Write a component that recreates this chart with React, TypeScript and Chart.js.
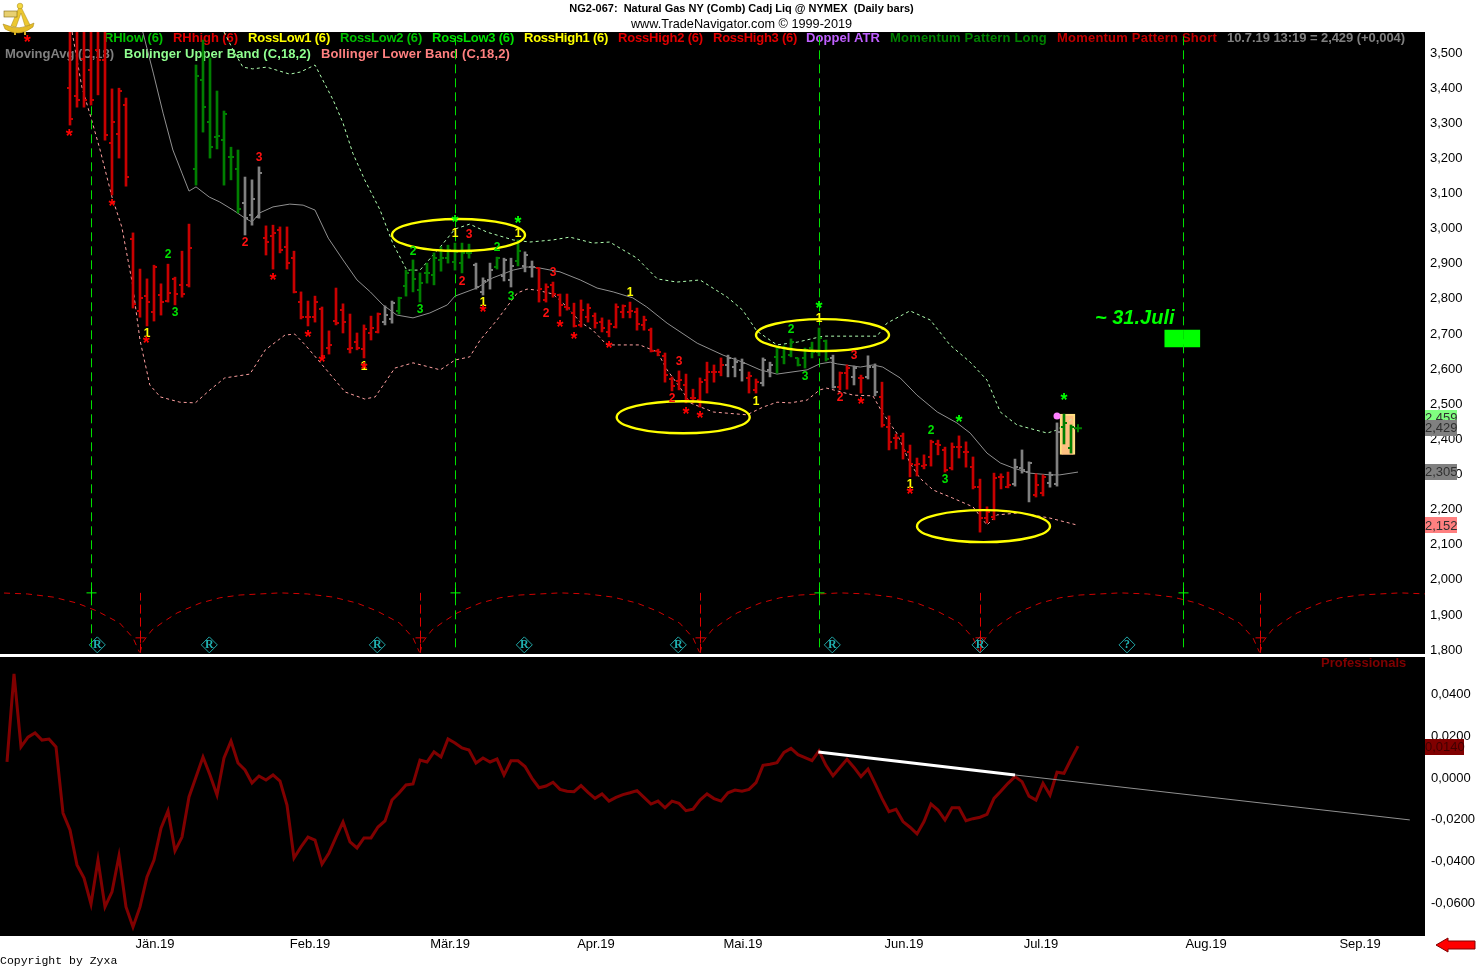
import React, { useEffect, useRef } from "react";
import Chart from "chart.js/auto";

const FONT = "'Liberation Sans', Arial, sans-serif";

// ---- price bars (bar index = barStart + position)
const barStart = 10;
const opens = [
  3397,3375,3480,3449,3506,3477,3241,3267,3349,2968,
  2763,2805,2760,2808,2791,2854,2837,2837,3167,3420,
  3301,3258,3249,3201,3167,3070,3036,3030,2970,2976,
  2993,2945,2913,2788,2745,2745,2768,2657,2734,2765,
  2654,2674,2654,2700,2703,2731,2740,2763,2834,2879,
  2822,2871,2865,2908,2913,2902,2899,2928,2893,2817,
  2851,2888,2862,2851,2905,2891,2888,2885,2794,2837,
  2808,2774,2757,2723,2745,2748,2731,2703,2717,2760,
  2760,2760,2723,2708,2649,2635,2569,2563,2552,2515,
  2509,2566,2589,2589,2609,2603,2595,2572,2538,2558,
  2595,2632,2632,2637,2629,2629,2657,2646,2677,2629,
  2546,2586,2575,2572,2575,2603,2518,2432,2401,2407,
  2361,2324,2321,2347,2384,2367,2316,2375,2361,2318,
  2261,2173,2176,2290,2261,2270,2316,2304,2239,2244,
  2273,2270,2432,2373,
];
const highs = [
  3650,3650,3650,3650,3650,3650,3395,3397,3369,2985,
  2882,2854,2893,2840,2896,2859,2933,3010,3463,3534,
  3483,3389,3332,3229,3221,3144,3136,3173,3005,3007,
  3002,3002,2933,2817,2791,2805,2774,2706,2828,2783,
  2754,2700,2723,2748,2757,2777,2791,2802,2879,2908,
  2871,2899,2928,2945,2950,2956,2956,2953,2899,2857,
  2899,2916,2913,2913,2965,2931,2905,2885,2840,2845,
  2811,2811,2785,2794,2783,2757,2743,2737,2783,2780,
  2788,2771,2748,2714,2654,2643,2575,2592,2583,2540,
  2572,2617,2609,2629,2637,2629,2626,2589,2569,2629,
  2617,2660,2663,2683,2629,2657,2674,2714,2680,2637,
  2589,2609,2606,2580,2635,2612,2560,2464,2412,2415,
  2381,2344,2353,2395,2395,2375,2387,2407,2390,2347,
  2284,2205,2301,2299,2304,2341,2367,2333,2299,2296,
  2304,2444,2469,2438,
];
const lows = [
  3292,3343,3343,3349,3378,3249,3093,3198,3118,2771,
  2745,2720,2734,2751,2788,2780,2802,2831,3121,3272,
  3198,3224,3121,3136,3042,2979,3007,3027,2922,2882,
  2928,2882,2814,2740,2720,2731,2632,2640,2723,2700,
  2643,2652,2629,2680,2700,2723,2728,2754,2805,2817,
  2788,2842,2837,2876,2899,2879,2871,2913,2825,2808,
  2825,2882,2848,2831,2891,2874,2859,2788,2788,2802,
  2748,2765,2717,2717,2731,2714,2703,2689,2714,2743,
  2743,2708,2708,2646,2635,2560,2535,2538,2501,2501,
  2489,2529,2560,2578,2575,2575,2563,2529,2529,2549,
  2575,2586,2612,2632,2606,2600,2629,2635,2620,2543,
  2538,2540,2552,2529,2569,2521,2432,2367,2370,2341,
  2290,2293,2313,2321,2353,2304,2310,2344,2318,2256,
  2133,2159,2168,2256,2259,2264,2301,2219,2233,2236,
  2261,2264,2384,2358,
];
const closes = [
  3309,3363,3363,3363,3477,3264,3301,3389,3144,2783,
  2800,2788,2888,2788,2814,2811,2811,2942,3432,3343,
  3229,3261,3323,3201,3053,3027,3081,3155,2959,2985,
  2936,2899,2817,2745,2745,2788,2635,2666,2728,2731,
  2657,2657,2711,2714,2754,2751,2785,2800,2871,2854,
  2842,2871,2913,2913,2936,2931,2928,2928,2831,2848,
  2879,2913,2908,2891,2933,2922,2888,2825,2831,2811,
  2780,2771,2720,2765,2771,2728,2714,2726,2774,2777,
  2763,2726,2737,2649,2646,2580,2549,2566,2509,2515,
  2560,2589,2589,2609,2629,2617,2615,2578,2560,2623,
  2609,2657,2657,2674,2609,2652,2646,2686,2626,2546,
  2586,2600,2600,2572,2603,2532,2438,2390,2401,2364,
  2327,2327,2324,2390,2381,2310,2375,2375,2361,2261,
  2173,2190,2287,2290,2267,2318,2310,2330,2267,2290,
  2296,2418,2444,2432,
];
const barKinds =
  "rrrrrrrrrrrrrrrrrr" + "ggggggg" + "nnn" + "rrrrrrrrrrrrrrrrr" + "nn" + "ggggggggggg" + "nnn" + "g" + "nn" + "g" + "nn" +
  "rrrrrrrrrrrrrrrrrrrrrrrrrrr" + "nnn" + "rr" + "nn" + "gggggggg" + "n" + "rr" + "n" + "r" + "nn" +
  "rrrrrrrrrrrrrrrrrrr" + "nnn" + "rr" + "nn" + "gg";

// ---- moving average and Bollinger bands (bar index / price)
const maBars = [20.4,21.9,23.3,24.7,26,27,28,29.9,31.4,33.3,35,36,37.1,39,41.4,43.3,45,46.9,49,51,52.9,54.7,56.7,59,61.4,63.9,65,68.1,70.4,73.3,75.3,77.1,80,82.9,85.3,87.6,90.4,92.4,95.3,99.6,103.3,106.1,108.6,111,115.3,117.1,118.6,119.6,122.9,124.7,126.1,128.6,131,133.9,136.7,138.6,141,142.9,144.7,147.1,150,151.4,154];
const maValues = [3557,3440,3326,3221,3155,3104,3116,3087,3073,3050,3027,3016,3042,3059,3067,3064,3050,2970,2908,2851,2817,2780,2751,2743,2757,2780,2805,2828,2857,2879,2888,2885,2874,2851,2828,2817,2800,2774,2728,2671,2637,2617,2595,2583,2595,2612,2617,2612,2603,2609,2603,2572,2523,2475,2444,2415,2358,2330,2316,2301,2296,2296,2304];
const upperBars = [32,33.3,34.7,36.1,38.1,41.4,42.9,45,47.6,49,50.4,52.1,54.3,56.1,58.1,60,62.9,65,67.1,69.6,73.3,75.7,79,81.4,84.7,87.1,91,93.9,96.7,100,103.9,106.1,108.1,111,113.9,117.6,120,125.3,126.7,130,132.9,135.7,138.6,141,142.9,145.3,149.6,151,153.3];
const upperValues = [3557,3506,3457,3452,3457,3437,3443,3463,3363,3298,3212,3136,3050,2956,2879,2879,2945,2996,3010,2987,2965,2959,2965,2973,2956,2959,2913,2854,2845,2851,2802,2765,2706,2666,2674,2691,2691,2691,2728,2763,2737,2666,2617,2566,2475,2438,2415,2424,2458];
const lowerBars = [10.3,11.7,13.1,14.3,16,17.4,18.9,20,21.4,22.9,25.7,27.9,30,32.1,35.7,37.9,40.7,42.1,43.6,45.7,49.3,52.1,53.6,56.4,59,62.9,65,67.1,68.6,71,73.9,75.3,76.7,79,81,82.9,84.7,86.7,91.4,93.9,95.3,97.1,98.6,101.9,106.7,109,111,112.9,115.3,117.1,118.1,121.9,124.7,126.1,128.1,130,131.4,133.3,136.1,139,141,142.4,145.7,150,153.9];
const lowerValues = [3557,3400,3306,3221,3087,3002,2842,2680,2552,2518,2503,2501,2538,2572,2583,2652,2694,2697,2666,2617,2532,2512,2518,2600,2615,2595,2623,2632,2680,2737,2814,2825,2822,2811,2774,2731,2708,2666,2666,2646,2595,2546,2501,2475,2467,2489,2503,2501,2509,2538,2543,2523,2521,2472,2415,2330,2287,2253,2230,2205,2153,2182,2188,2173,2153];

// ---- cycle study
const greenCycleBars = [13, 65, 117, 169];
const redCycleBars = [20, 60, 100, 140, 180];
const arcTroughBars = [-20, 20, 60, 100, 140, 180];
const arcOffsets = [0,0.4,1.7,3.3,5.3,8.6,11.4,14.3,20,23.9,27.6,31,33.9,37.1,39,39.9];
const arcValues = [1789,1820,1854,1877,1903,1931,1946,1954,1960,1957,1948,1931,1908,1874,1832,1792];
const rBars = [13.9, 29.9, 53.9, 74.9, 96.9, 118.9, 140, 161];
const rLetters = ["R","R","R","R","R","R","R","?"];

// ---- signal marks
const starRedBars = [3.9,9.9,16,20.9,39,44,46,52,69,80,82,87,98,100,123,130];
const starRedValues = [3534,3266,3067,2677,2857,2694,2622,2603,2765,2723,2689,2663,2475,2464,2503,2247];
const starGreenBars = [65,74,117,137,152];
const starGreenValues = [3022,3019,2777,2452,2515];
const digitBars = [21,24,25,37,35,52,59,60,65,67,66,69,71,74,73,79,78,90,97,96,108,117,113,115,122,120,133,135,130];
const digitValues = [2697,2922,2757,3198,2956,2603,2931,2765,2982,2979,2845,2785,2942,2982,2802,2871,2754,2814,2617,2512,2503,2740,2708,2575,2635,2515,2421,2281,2267];
const digitTexts = ["1","2","3","3","2","1","2","3","1","3","2","1","2","1","3","3","2","1","3","2","1","1","2","3","3","2","2","3","1"];
const digitKinds = ["y","g","g","r","r","y","g","g","y","r","r","y","g","y","g","r","r","y","r","r","y","y","g","g","r","r","g","g","y"];

// ---- ellipses (centre bar, centre price)
const ellipseBars = [65.5, 117.5, 97.6, 140.5];
const ellipseValues = [2979, 2694, 2460, 2150];
const ellipseBarRadius = 9.5;
const ellipsePriceRadius = 45.6;

// ---- texts
const legendRow1 = ["RHIow (6)","RHhigh (6)","RossLow1 (6)","RossLow2 (6)","RossLow3 (6)","RossHigh1 (6)","RossHigh2 (6)","RossHigh3 (6)","Doppel ATR","Momentum Pattern Long","Momentum Pattern Short","10.7.19 13:19 = 2,429 (+0,004)"];
const legendRow1Colors = ["#00c000","#e00000","#ffff00","#00c000","#00e000","#ffff00","#e00000","#e00000","#c060ff","#008000","#c00000","#808080"];
const legendRow1X = [104,173,248,340,432,524,618,713,806,890,1057,1227];
const legendRow1W = [59,65,82,82,82,84,85,84,74,157,160,178];
const legendRow2 = ["MovingAvg (C,18)","Bollinger Upper Band (C,18,2)","Bollinger Lower Band (C,18,2)"];
const legendRow2Colors = ["#808080","#90ff90","#ff8080"];
const legendRow2X = [5,124,321];
const legendRow2W = [109,187,189];
const titleLine = "NG2-067:  Natural Gas NY (Comb) Cadj Liq @ NYMEX  (Daily bars)";
const subtitleLine = "www.TradeNavigator.com \u00A9 1999-2019";
const priceFlags = [2459, 2429, 2305, 2152];
const priceFlagFills = ["#80ff80", "#808080", "#808080", "#ff8080"];

// ---- lower panel
const professionals = [
  0.0067,0.0488,0.0139,0.0186,0.0206,0.0172,0.0177,0.0139,-0.0177,-0.0258,
  -0.0425,-0.0488,-0.0612,-0.0402,-0.0626,-0.0554,-0.0382,-0.0626,-0.0722,-0.0626,
  -0.0483,-0.0402,-0.0249,-0.0167,-0.0358,-0.0292,-0.0100,-0.0005,0.0091,0.0005,
  -0.0091,0.0086,0.0167,0.0062,0.0029,-0.0033,0,-0.0019,0.0005,-0.0024,
  -0.0139,-0.0392,-0.0339,-0.0292,-0.0306,-0.0421,-0.0368,-0.0292,-0.0220,-0.0315,
  -0.0344,-0.0296,-0.0296,-0.0244,-0.0215,-0.0115,-0.0081,-0.0043,-0.0038,0.0076,
  0.0067,0.0115,0.0091,0.0177,0.0158,0.0134,0.0124,0.0062,0.0086,0.0067,
  0.0081,0.0005,0.0073,0.0073,0.0045,-0.0011,-0.0056,-0.0048,-0.0030,-0.0064,
  -0.0073,-0.0075,-0.0046,-0.0078,-0.0107,-0.0086,-0.0120,-0.0102,-0.0089,-0.0080,
  -0.0070,-0.0102,-0.0134,-0.0120,-0.0152,-0.0120,-0.0131,-0.0166,-0.0159,-0.0115,
  -0.0086,-0.0108,-0.0120,-0.0080,-0.0067,-0.0073,-0.0064,-0.0032,0.0051,0.0056,
  0.0064,0.0113,0.0132,0.0102,0.0088,0.0073,0.0120,0.0051,0.0001,0.0041,
  0.0080,0.0041,-0.0003,0.0033,-0.0035,-0.0107,-0.0171,-0.0159,-0.0218,-0.0245,
  -0.0277,-0.0218,-0.0134,-0.0163,-0.0210,-0.0152,-0.0152,-0.0214,-0.0204,-0.0197,
  -0.0183,-0.0107,-0.0072,-0.0035,-0.0003,-0.0027,-0.0096,-0.0115,-0.0035,-0.0091,
  0.0018,0.0013,0.0080,0.0143,
];
const trendBars = [116.9, 145];
const trendValues = [0.0115, 0.0005];
const trendExtBars = [145, 201.4];
const trendExtValues = [0.0005, -0.021];
const monthLabels = ["J\u00E4n.19","Feb.19","M\u00E4r.19","Apr.19","Mai.19","Jun.19","Jul.19","Aug.19","Sep.19"];
const monthBars = [22.14,44.29,64.29,85.14,106.14,129.14,148.71,172.29,194.29];

const X_MAX = 1425 / 7;
const HALF_PX = 0.5 / 7; // keeps 1px vertical rules on one device pixel column
const COLORS: Record<string, string> = { r: "#c80000", g: "#007f00", n: "#808080", y: "#ffff00" };
const DIGIT_COLORS: Record<string, string> = { r: "#ff1010", g: "#00e000", y: "#ffff00" };

function tickImage(color: string, side: "left" | "right") {
  const c = document.createElement("canvas");
  c.width = 8;
  c.height = 2;
  const g = c.getContext("2d")!;
  g.fillStyle = color;
  if (side === "left") g.fillRect(1, 0, 3, 2);
  else g.fillRect(4, 0, 3, 2);
  return c;
}
const pts = (xs: number[], ys: number[]) => xs.map((x, i) => ({ x, y: ys[i] }));
const lineDs = (data: any[], color: string, width: number, dash: number[] = []) => ({
  type: "line", data, borderColor: color, borderWidth: width, borderDash: dash,
  pointRadius: 0, tension: 0, fill: false, order: 3,
});
const yFit = (s: any) => { s.width = 58; s.paddingTop = 0; s.paddingBottom = 0; };

function fitText(ctx: any, text: string, x: number, y: number, w: number) {
  ctx.letterSpacing = "0px";
  const m = ctx.measureText(text).width;
  ctx.letterSpacing = `${(w - m) / text.length}px`;
  ctx.fillText(text, x, y);
  ctx.letterSpacing = "0px";
}

export default function App() {
  const topRef = useRef<HTMLCanvasElement>(null);
  const botRef = useRef<HTMLCanvasElement>(null);

  useEffect(() => {
    const PRICE_MIN = 1786, PRICE_MAX = 3557;
    const bars = barKinds.split("").map((_, i) => ({ x: barStart + i, y: [lows[i], highs[i]] }));
    const barFill = barKinds.split("").map((k) => COLORS[k]);
    const leftImg: any = {}, rightImg: any = {};
    ["r", "g", "n"].forEach((k) => { leftImg[k] = tickImage(COLORS[k], "left"); rightImg[k] = tickImage(COLORS[k], "right"); });

    const topBg = {
      id: "topBg",
      beforeDraw(chart: any) {
        const { ctx, chartArea: a } = chart;
        ctx.save();
        ctx.fillStyle = "#fff";
        ctx.fillRect(0, 0, chart.width, chart.height);
        ctx.fillStyle = "#000";
        ctx.fillRect(a.left, a.top, a.right - a.left, a.bottom - a.top);
        ctx.fillStyle = "#000";
        ctx.textAlign = "center";
        ctx.textBaseline = "middle";
        ctx.font = `bold 11px ${FONT}`;
        ctx.fillText(titleLine, 741.5, 9);
        ctx.font = `12.7px ${FONT}`;
        ctx.fillText(subtitleLine, 741.5, 24.5);
        ctx.restore();
      },
      beforeDatasetsDraw(chart: any) {
        const { ctx } = chart;
        ctx.save();
        ctx.font = `bold 13px ${FONT}`;
        ctx.textAlign = "left";
        ctx.textBaseline = "middle";
        legendRow1.forEach((t, i) => { ctx.fillStyle = legendRow1Colors[i]; fitText(ctx, t, legendRow1X[i], 38.5, legendRow1W[i]); });
        legendRow2.forEach((t, i) => { ctx.fillStyle = legendRow2Colors[i]; fitText(ctx, t, legendRow2X[i], 54.5, legendRow2W[i]); });
        ctx.restore();
      },
      afterDatasetsDraw(chart: any) {
        const { ctx, scales, chartArea: a } = chart;
        const X = scales.x, Y = scales.y;
        ctx.save();
        ctx.beginPath();
        ctx.rect(a.left, a.top, a.right - a.left, a.bottom - a.top);
        ctx.clip();
        // ellipses
        ctx.strokeStyle = "#ffff00";
        ctx.lineWidth = 2.4;
        ellipseBars.forEach((b, i) => {
          const cx = X.getPixelForValue(b), cy = Y.getPixelForValue(ellipseValues[i]);
          const rx = X.getPixelForValue(b + ellipseBarRadius) - cx;
          const ry = cy - Y.getPixelForValue(ellipseValues[i] + ellipsePriceRadius);
          ctx.beginPath();
          ctx.ellipse(cx, cy, rx, ry, 0, 0, Math.PI * 2);
          ctx.stroke();
        });
        // signal digits
        ctx.font = `bold 12px ${FONT}`;
        ctx.textAlign = "center";
        ctx.textBaseline = "middle";
        digitBars.forEach((b, i) => {
          ctx.fillStyle = DIGIT_COLORS[digitKinds[i]];
          ctx.fillText(digitTexts[i], X.getPixelForValue(b), Y.getPixelForValue(digitValues[i]));
        });
        // asterisks
        ctx.font = `bold 18px ${FONT}`;
        ctx.fillStyle = "#ff0000";
        starRedBars.forEach((b, i) => ctx.fillText("*", X.getPixelForValue(b), Y.getPixelForValue(starRedValues[i]) + 3));
        ctx.fillStyle = "#00ff00";
        starGreenBars.forEach((b, i) => ctx.fillText("*", X.getPixelForValue(b), Y.getPixelForValue(starGreenValues[i]) + 3));
        // diamond letters
        ctx.font = `bold 12px 'Liberation Serif', serif`;
        ctx.fillStyle = "#20b0b0";
        rBars.forEach((b, i) => ctx.fillText(rLetters[i], X.getPixelForValue(b), Y.getPixelForValue(1812)));
        // headline
        ctx.font = `italic bold 20px ${FONT}`;
        ctx.textAlign = "left";
        ctx.fillStyle = "#00ff00";
        ctx.fillText("~ 31.Juli", 1095, 318);
        ctx.restore();
      },
      afterDraw(chart: any) {
        const { ctx, scales } = chart;
        ctx.save();
        ctx.font = `13px ${FONT}`;
        ctx.textAlign = "left";
        ctx.textBaseline = "middle";
        priceFlags.forEach((v, i) => {
          const y = scales.y.getPixelForValue(v);
          ctx.fillStyle = priceFlagFills[i];
          ctx.fillRect(1425, Math.round(y) - 8, 32, 16);
          ctx.fillStyle = "#303030";
          ctx.fillText(String(v).replace(/^(\d)/, "$1,"), 1425, y + 0.5);
        });
        ctx.restore();
      },
    };

    const arcs = arcTroughBars.map((t) =>
      lineDs(arcOffsets.map((o, i) => ({ x: t + o, y: arcValues[i] })), "#d00000", 1, [6, 5])
    );

    const top = new Chart(topRef.current!, {
      type: "bar",
      data: {
        datasets: [
          { type: "bar", data: [{ x: 152.5, y: [2353, 2469] }], backgroundColor: "#ffc080", borderColor: "#ffe080", borderWidth: 2, barThickness: 15, grouped: false, order: 6 },
          { type: "bar", data: [{ x: 168.9, y: [2660, 2708] }], backgroundColor: "#00ff00", barThickness: 35, grouped: false, order: 6 },
          ...greenCycleBars.map((b) => lineDs([{ x: b + HALF_PX, y: 1805 }, { x: b + HALF_PX, y: PRICE_MAX }], "#00e000", 1, [9, 5])),
          ...redCycleBars.map((b) => lineDs([{ x: b + HALF_PX, y: 1790 }, { x: b + HALF_PX, y: 1960 }], "#e00000", 1, [9, 4])),
          ...arcs,
          lineDs(pts(maBars, maValues), "#909090", 1),
          lineDs(pts(upperBars, upperValues), "#b0ffb0", 1, [3, 3]),
          lineDs(pts(lowerBars, lowerValues), "#ffa0a0", 1, [3, 3]),
          {
            type: "bar", data: bars, backgroundColor: barFill, barThickness: 2, grouped: false, order: 2,
          },
          {
            type: "scatter", order: 1,
            data: pts(barKinds.split("").map((_, i) => barStart + i), opens),
            pointStyle: barKinds.split("").map((k) => leftImg[k]), pointRadius: 4,
          },
          {
            type: "scatter", order: 1,
            data: pts(barKinds.split("").map((_, i) => barStart + i), closes),
            pointStyle: barKinds.split("").map((k) => rightImg[k]), pointRadius: 4,
          },
          { type: "scatter", order: 0, data: greenCycleBars.map((b) => ({ x: b + HALF_PX, y: 1960 })), pointStyle: "cross", pointRadius: 5, borderWidth: 1, borderColor: "#00ff00" },
          { type: "scatter", order: 0, data: redCycleBars.map((b) => ({ x: b + HALF_PX, y: 1832 })), pointStyle: "cross", pointRadius: 5, borderWidth: 1, borderColor: "#e00000" },
          { type: "scatter", order: 0, data: rBars.map((b) => ({ x: b, y: 1812 })), pointStyle: "rectRot", pointRadius: 8, borderWidth: 1, borderColor: "#20a8a8", backgroundColor: "rgba(0,0,0,0)" },
          { type: "scatter", order: 0, data: [{ x: 151, y: 2464 }], pointStyle: "circle", pointRadius: 3.5, borderWidth: 0, backgroundColor: "#ff80ff" },
          { type: "scatter", order: 0, data: [{ x: 154, y: 2429 }], pointStyle: "cross", pointRadius: 4, borderWidth: 2, borderColor: "#008000" },
        ] as any,
      },
      options: {
        animation: false, responsive: false, devicePixelRatio: 1, events: [],
        layout: { autoPadding: false, padding: { top: 32, bottom: 1, left: 0, right: 0 } },
        plugins: { legend: { display: false }, tooltip: { enabled: false } },
        scales: {
          x: { type: "linear", display: false, min: 0, max: X_MAX, offset: false, grid: { display: false, offset: false } },
          y: {
            position: "right", min: PRICE_MIN, max: PRICE_MAX, afterFit: yFit,
            grid: { display: false, drawTicks: false }, border: { display: false },
            ticks: {
              stepSize: 100, includeBounds: false, crossAlign: "near", padding: 5, labelOffset: 1, color: "#000",
              font: { family: FONT, size: 13 },
              callback: (v: any) => Number(v).toLocaleString("en-US"),
            },
          },
        },
      } as any,
      plugins: [topBg],
    } as any);

    const botBg = {
      id: "botBg",
      beforeDraw(chart: any) {
        const { ctx, chartArea: a } = chart;
        ctx.save();
        ctx.fillStyle = "#fff";
        ctx.fillRect(0, 0, chart.width, chart.height);
        ctx.fillStyle = "#000";
        ctx.fillRect(a.left, a.top, a.right - a.left, a.bottom - a.top);
        ctx.font = `bold 13px ${FONT}`;
        ctx.textAlign = "left";
        ctx.textBaseline = "middle";
        ctx.fillStyle = "#800000";
        ctx.fillText("Professionals", 1321, 6.5);
        ctx.restore();
      },
      afterDraw(chart: any) {
        const { ctx, scales } = chart;
        ctx.save();
        const y = scales.y.getPixelForValue(0.014);
        ctx.fillStyle = "#800000";
        ctx.fillRect(1425, Math.round(y) - 8, 39, 16);
        ctx.font = `13px ${FONT}`;
        ctx.textAlign = "left";
        ctx.textBaseline = "middle";
        ctx.fillStyle = "#400000";
        ctx.fillText("0,0140", 1425, y + 0.5);
        ctx.font = `11.5px 'Liberation Mono', monospace`;
        ctx.fillStyle = "#000";
        ctx.fillText("Copyright by Zyxa", 0, 303.5);
        ctx.fillStyle = "#ff0000";
        ctx.strokeStyle = "#800000";
        ctx.lineWidth = 1;
        const o = -657;
        ctx.beginPath();
        ctx.moveTo(1436, 945 + o);
        ctx.lineTo(1448, 938 + o);
        ctx.lineTo(1448, 941 + o);
        ctx.lineTo(1475, 941 + o);
        ctx.lineTo(1475, 949 + o);
        ctx.lineTo(1448, 949 + o);
        ctx.lineTo(1448, 952 + o);
        ctx.closePath();
        ctx.fill();
        ctx.stroke();
        ctx.restore();
      },
    };

    const bottom = new Chart(botRef.current!, {
      type: "line",
      data: {
        datasets: [
          lineDs(pts(trendExtBars, trendExtValues), "#909090", 1),
          lineDs(professionals.map((v, i) => ({ x: i + 1, y: v })), "#800000", 3),
          { ...lineDs(pts(trendBars, trendValues), "#ffffff", 3), order: 1 },
        ] as any,
      },
      options: {
        animation: false, responsive: false, devicePixelRatio: 1, events: [],
        layout: { autoPadding: false },
        plugins: { legend: { display: false }, tooltip: { enabled: false } },
        scales: {
          x: {
            type: "linear", min: 0, max: X_MAX, offset: false,
            grid: { display: false, drawTicks: false }, border: { display: false },
            afterBuildTicks: (axis: any) => { axis.ticks = monthBars.map((v) => ({ value: v })); },
            afterFit: (s: any) => { s.height = 31; s.paddingLeft = 0; s.paddingRight = 0; },
            ticks: {
              autoSkip: false, maxRotation: 0, padding: 1, color: "#000",
              font: { family: FONT, size: 13 },
              callback: (_: any, i: number) => monthLabels[i],
            },
          },
          y: {
            position: "right", min: -0.0765, max: 0.0569, afterFit: yFit,
            grid: { display: false, drawTicks: false }, border: { display: false },
            ticks: {
              stepSize: 0.02, includeBounds: false, crossAlign: "near", padding: 6, labelOffset: 2, color: "#000",
              font: { family: FONT, size: 13 },
              callback: (v: any) => Number(v).toFixed(4).replace(".", ",").replace(/^-0,0000/, "0,0000"),
            },
          },
        },
      } as any,
      plugins: [botBg],
    } as any);

    return () => { top.destroy(); bottom.destroy(); };
  }, []);

  return (
    <div style={{ position: "absolute", left: 0, top: 0, width: 1483, height: 967, background: "#fff", overflow: "hidden" }}>
      <canvas ref={topRef} width={1483} height={655} style={{ position: "absolute", left: 0, top: 0 }} />
      <canvas ref={botRef} width={1483} height={310} style={{ position: "absolute", left: 0, top: 657 }} />
      <svg width="38" height="36" style={{ position: "absolute", left: 0, top: 0 }} viewBox="0 0 38 36">
        <path d="M3 24 L12 27 Q20 29 27 26 L34 23 L33 27 Q19 38 5 29 Z" fill="#e4bc28" stroke="#a08010" strokeWidth="0.5" />
        <path d="M20 5 L11 26 L16 27 L21 13 L25 26 L30 25 Z" fill="#ecc830" stroke="#a88814" strokeWidth="0.5" />
        <rect x="4" y="11" width="13" height="6" fill="#e8d070" stroke="#806810" strokeWidth="0.6" />
        <circle cx="20" cy="6" r="2.8" fill="#f4d840" stroke="#a08010" strokeWidth="0.5" />
        <path d="M15 32 L15 35 M25 32 L25 35" stroke="#d8b020" strokeWidth="2" />
      </svg>
    </div>
  );
}
